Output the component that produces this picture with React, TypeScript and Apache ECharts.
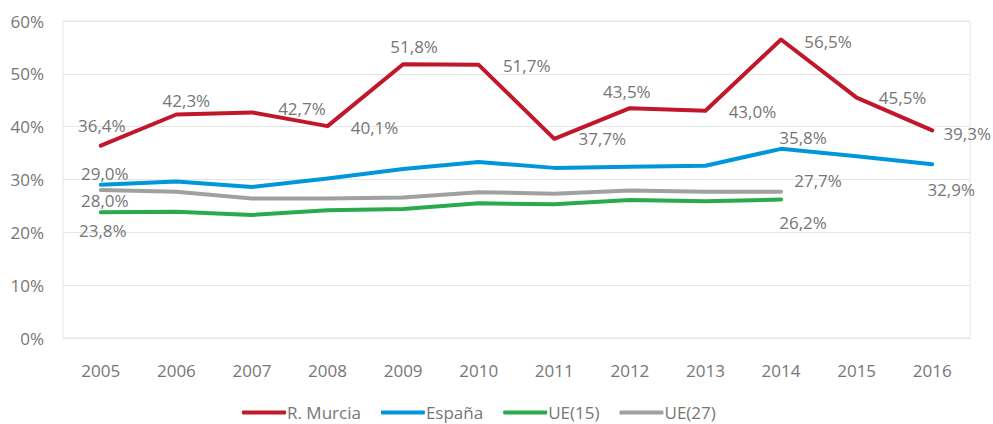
import React, { useEffect, useRef } from "react";
import * as echarts from "echarts";

const years = ["2005", "2006", "2007", "2008", "2009", "2010", "2011", "2012", "2013", "2014", "2015", "2016"];
const murcia = [36.4, 42.3, 42.7, 40.1, 51.8, 51.7, 37.7, 43.5, 43.0, 56.5, 45.5, 39.3];
const espana = [29.0, 29.6, 28.6, 30.2, 32.0, 33.3, 32.2, 32.4, 32.6, 35.8, 34.4, 32.9];
const ue15 = [23.8, 23.9, 23.3, 24.2, 24.4, 25.5, 25.3, 26.1, 25.9, 26.2];
const ue27 = [28.0, 27.7, 26.4, 26.4, 26.6, 27.6, 27.3, 27.9, 27.7, 27.7];

// label offsets (null = no label)
const murciaLbl: ([number, number] | null)[] = [[1, -20], [10, -14], [50, -4], [47, 1], [11, -18], [48, 1], [48, 0], [-3, -17], [47, 1], [47, 2], [46, 0], [35, 3]];
const espanaLbl: ([number, number] | null)[] = [[4, -11], null, null, null, null, null, null, null, null, [22, -11], null, [19, 25]];
const ue15Lbl: ([number, number] | null)[] = [[2, 18], null, null, null, null, null, null, null, null, [22, 23]];
const ue27Lbl: ([number, number] | null)[] = [[4, 10], null, null, null, null, null, null, null, null, [37, -11]];

const FONT = "Open Sans";
const TXT = "#767676";

function build(values: number[], lbl: ([number, number] | null)[]) {
  return values.map((v, i) => {
    const o = lbl[i];
    return {
      value: v,
      label: o
        ? {
            show: true,
            position: "inside",
            offset: o,
            formatter: () => v.toFixed(1).replace(".", ",") + "%",
            color: TXT,
            fontSize: 17,
            fontFamily: FONT,
          }
        : { show: false },
    };
  });
}

function series(name: string, color: string, values: number[], lbl: ([number, number] | null)[]) {
  return {
    name,
    type: "line",
    data: build(values, lbl),
    showSymbol: true,
    symbol: "circle",
    symbolSize: 0,
    itemStyle: { color },
    lineStyle: { color, width: 4, cap: "round", join: "round" },
    emphasis: { disabled: true },
  };
}

export default function App() {
  const ref = useRef<HTMLDivElement>(null);
  useEffect(() => {
    if (!ref.current) return;
    const chart = echarts.init(ref.current, undefined, { renderer: "svg" });
    chart.setOption({
      animation: false,
      backgroundColor: "#ffffff",
      textStyle: { fontFamily: FONT },
      grid: {
        left: 63,
        right: 23,
        top: 21,
        bottom: 86,
        show: true,
        borderColor: "#e6e6e6",
        borderWidth: 1,
      },
      legend: {
        left: 237,
        top: 399,
        itemWidth: 44,
        itemHeight: 4,
        itemGap: 20,
        icon: "roundRect",
        textStyle: { color: TXT, fontSize: 17, fontFamily: FONT, padding: [0, 0, 0, -4] },
        data: ["R. Murcia", "España", "UE(15)", "UE(27)"],
      },
      xAxis: {
        type: "category",
        data: years,
        boundaryGap: true,
        axisLine: { show: true, lineStyle: { color: "#e6e6e6" } },
        axisTick: { show: false },
        axisLabel: { color: TXT, fontSize: 17, fontFamily: FONT, margin: 24 },
      },
      yAxis: {
        type: "value",
        min: 0,
        max: 60,
        interval: 10,
        axisLine: { show: false },
        axisTick: { show: false },
        splitLine: { lineStyle: { color: "#e6e6e6", width: 1 } },
        axisLabel: { color: TXT, fontSize: 17, fontFamily: FONT, margin: 19, formatter: "{value}%" },
      },
      series: [
        series("R. Murcia", "#C1172B", murcia, murciaLbl),
        series("España", "#0096DB", espana, espanaLbl),
        series("UE(15)", "#2AAA4C", ue15, ue15Lbl),
        series("UE(27)", "#A0A0A0", ue27, ue27Lbl),
      ],
    });
    return () => chart.dispose();
  }, []);
  return <div ref={ref} style={{ position: "fixed", left: 0, top: 0, width: 993, height: 424 }} />;
}
